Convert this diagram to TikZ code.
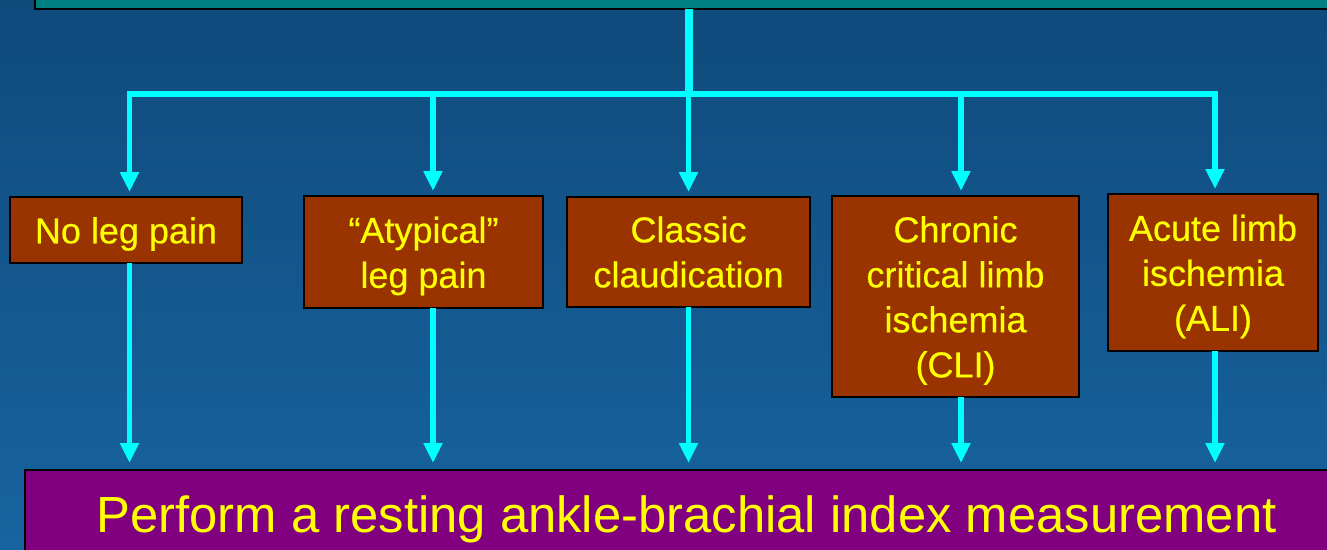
\documentclass[tikz,border=0pt]{standalone}
\usepackage{fontspec}
\setmainfont{Liberation Sans}
\newfontfamily\boxfont{Liberation Sans}[FakeBold=0.4]
\usetikzlibrary{arrows.meta}
\definecolor{bgtop}{HTML}{0F4A7B}
\definecolor{bgbot}{HTML}{1764A0}
\definecolor{tealbox}{HTML}{008080}
\definecolor{brownbox}{HTML}{993300}
\definecolor{purplebox}{HTML}{800080}
\definecolor{cyanline}{HTML}{00FFFF}
\definecolor{yellowtext}{HTML}{FFFF00}
\tikzset{
  pbox/.style={draw=black, line width=2pt, fill=brownbox, inner sep=0pt, outer sep=0pt},
  ptext/.style={text=yellowtext, inner sep=0pt, align=center, font=\boxfont\fontsize{36}{45}\selectfont},
  topbox/.style={draw=black, line width=2pt, fill=tealbox, inner sep=0pt, outer sep=0pt},
  abibox/.style={draw=black, line width=2pt, fill=purplebox, inner sep=0pt, outer sep=0pt},
  abitext/.style={text=yellowtext, inner sep=0pt, font=\fontsize{50.8}{60}\selectfont},
  cline/.style={draw=cyanline, line width=5.5pt},
  trunkline/.style={draw=cyanline, line width=8pt},
  carrow/.style={draw=cyanline, line width=5.5pt, -{Triangle[width=18pt,length=20pt]}},
}
\begin{document}
\begin{tikzpicture}[x=1pt,y=-1pt]
\useasboundingbox (0,0) rectangle (1327,549);
\shade[top color=bgtop,bottom color=bgbot] (0,0) rectangle (1327,549);

% top box (cut off)
\node[topbox, minimum width=1305pt, minimum height=29pt] (top) at (687.5,-5.5) {};

% branch coordinates on the horizontal line
\coordinate (b1) at (129.5,94);
\coordinate (b2) at (433,94);
\coordinate (b3) at (688.5,94);
\coordinate (b4) at (961,94);
\coordinate (b5) at (1215,94);

% category boxes
\node[pbox, minimum width=232pt, minimum height=66pt] (nopain) at (126,230) {};
\node[pbox, minimum width=239pt, minimum height=112pt] (atyp) at (423.5,252) {};
\node[pbox, minimum width=243pt, minimum height=110pt] (classic) at (688.5,252) {};
\node[pbox, minimum width=247pt, minimum height=201pt] (cli) at (955.5,296.5) {};
\node[pbox, minimum width=210pt, minimum height=157pt] (ali) at (1213,272.5) {};

\node[ptext] (nopaint) at ([yshift=-4pt]nopain.center) {No leg pain};
\node[ptext] (atypt) at ([yshift=-4pt]atyp.center) {“Atypical”\\leg pain};
\node[ptext] (classict) at ([yshift=0pt]classic.center) {Classic\\claudication};
\node[ptext] (clit) at ([yshift=-4pt]cli.center) {Chronic\\critical limb\\ischemia\\(CLI)};
\node[ptext] (alit) at ([yshift=-4pt]ali.center) {Acute limb\\ischemia\\(ALI)};

% bottom box
\node[abibox, minimum width=1315pt, minimum height=90pt] (abi) at (682.5,515) {};
\node[abitext, anchor=base] (abit) at (686.5,532) {Perform a resting ankle-brachial index measurement};

% connectors
\draw[trunkline] (top.south -| b3) -- (b3);
\draw[cline, line cap=rect] (b1) -- (b5);
\draw[carrow, shorten >=5pt] (b1) -- (b1 |- nopain.north);
\draw[carrow, shorten >=5pt] (b2) -- (b2 |- atyp.north);
\draw[carrow, shorten >=5pt] (b3) -- (b3 |- classic.north);
\draw[carrow, shorten >=5pt] (b4) -- (b4 |- cli.north);
\draw[carrow, shorten >=5pt] (b5) -- (b5 |- ali.north);

\draw[carrow, shorten >=7pt] (nopain.south -| b1) -- (b1 |- abi.north);
\draw[carrow, shorten >=7pt] (atyp.south -| b2) -- (b2 |- abi.north);
\draw[carrow, shorten >=7pt] (classic.south -| b3) -- (b3 |- abi.north);
\draw[carrow, shorten >=7pt] (cli.south -| b4) -- (b4 |- abi.north);
\draw[carrow, shorten >=7pt] (ali.south -| b5) -- (b5 |- abi.north);
\end{tikzpicture}
\end{document}
